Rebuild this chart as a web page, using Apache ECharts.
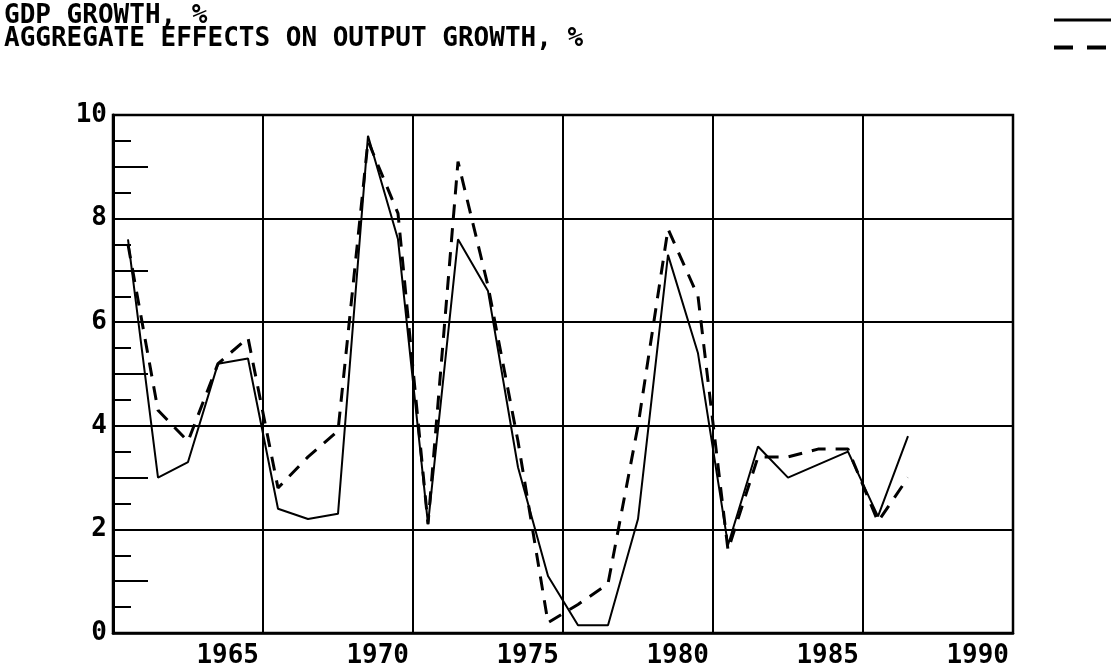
<!DOCTYPE html>
<html lang="en">
<head>
    <meta charset="UTF-8">
    <title>GDP growth</title>
    <style>
        html, body {
            margin: 0;
            padding: 0;
            background: #fff;
        }

        #chart {
            width: 1111px;
            height: 669px;
        }
    </style>
</head>
<body>
<div id="chart"></div>
<script src="https://cdn.jsdelivr.net/npm/echarts@6/dist/echarts.min.js"></script>
<script>
    var years = [1961, 1962, 1963, 1964, 1965, 1966, 1967, 1968, 1969, 1970,
        1971, 1972, 1973, 1974, 1975, 1976, 1977, 1978, 1979, 1980,
        1981, 1982, 1983, 1984, 1985, 1986, 1987];
    var gdpGrowth = [7.6, 3.0, 3.3, 5.2, 5.3, 2.4, 2.2, 2.3, 9.6, 7.6,
        2.1, 7.6, 6.6, 3.2, 1.1, 0.15, 0.15, 2.2, 7.3, 5.4,
        1.7, 3.6, 3.0, 3.25, 3.5, 2.25, 3.8];
    var aggregateEffects = [7.5, 4.3, 3.7, 5.2, 5.7, 2.8, 3.4, 3.9, 9.5, 8.1,
        2.1, 9.1, 6.7, 3.7, 0.2, 0.55, 0.95, 4.0, 7.8, 6.5,
        1.6, 3.4, 3.4, 3.55, 3.55, 2.15, 3.0];
    var yearTicks = ['1965', '1970', '1975', '1980', '1985', '1990'];
    var seriesNames = ['GDP GROWTH, %', 'AGGREGATE EFFECTS ON OUTPUT GROWTH, %'];

    var font = 'DejaVu Sans Mono';

    var pairs = function (values) {
        return values.map(function (v, i) {
            return [years[i], v];
        });
    };

    var option = {
        animation: false,
        backgroundColor: '#fff',
        title: {
            text: seriesNames.join('\n'),
            left: 4,
            top: 5,
            padding: 0,
            textStyle: {
                color: '#000',
                fontFamily: font,
                fontWeight: 'bold',
                fontSize: 26,
                lineHeight: 23
            }
        },
        legend: {
            data: [
                {name: seriesNames[0], lineStyle: {width: 3}},
                {name: seriesNames[1], lineStyle: {width: 4, type: [19, 14]}}
            ],
            orient: 'vertical',
            right: -3,
            top: 13,
            padding: 0,
            itemWidth: 58,
            itemHeight: 14,
            itemGap: 15,
            itemStyle: {opacity: 0},
            formatter: function () {
                return '';
            },
            selectedMode: false
        },
        grid: {
            left: 113,
            right: 98,
            top: 115,
            bottom: 36,
            show: true,
            borderColor: '#000',
            borderWidth: 2.5
        },
        xAxis: {
            type: 'value',
            min: 1960.5,
            max: 1990.5,
            interval: 5,
            axisLine: {lineStyle: {color: '#000', width: 2.5}},
            axisTick: {show: false},
            splitLine: {lineStyle: {color: '#000', width: 2}},
            axisLabel: {
                color: '#000',
                fontFamily: font,
                fontWeight: 'bold',
                fontSize: 26,
                align: 'right',
                margin: 10,
                padding: [0, 4, 0, 0],
                showMinLabel: false,
                formatter: function (v) {
                    var k = Math.round((v - 1960.5) / 5) - 1;
                    return yearTicks[k] || '';
                }
            }
        },
        yAxis: [
            {
                // odd-unit and half-unit ticks drawn into the plot
                type: 'value',
                min: 0,
                max: 10,
                interval: 1,
                axisLine: {show: false},
                axisLabel: {show: false},
                splitLine: {show: false},
                axisTick: {
                    inside: true,
                    length: 35,
                    lineStyle: {color: '#000', width: 2}
                },
                minorTick: {
                    show: true,
                    splitNumber: 2,
                    length: 18,
                    lineStyle: {color: '#000', width: 2}
                }
            },
            {
                type: 'value',
                position: 'left',
                min: 0,
                max: 10,
                interval: 2,
                axisLine: {show: true, lineStyle: {color: '#000', width: 3}},
                axisTick: {show: false},
                splitLine: {lineStyle: {color: '#000', width: 2}},
                axisLabel: {
                    color: '#000',
                    fontFamily: font,
                    fontWeight: 'bold',
                    fontSize: 26,
                    margin: 6
                }
            }
        ],
        series: [
            {
                name: seriesNames[0],
                type: 'line',
                symbol: 'none',
                yAxisIndex: 0,
                lineStyle: {color: '#000', width: 2},
                itemStyle: {color: '#000'},
                data: pairs(gdpGrowth)
            },
            {
                name: seriesNames[1],
                type: 'line',
                symbol: 'none',
                yAxisIndex: 0,
                lineStyle: {color: '#000', width: 3, type: [14, 10]},
                itemStyle: {color: '#000'},
                data: pairs(aggregateEffects)
            }
        ]
    };

    var myChart = echarts.init(document.getElementById('chart'));
    myChart.setOption(option);
</script>
</body>
</html>
